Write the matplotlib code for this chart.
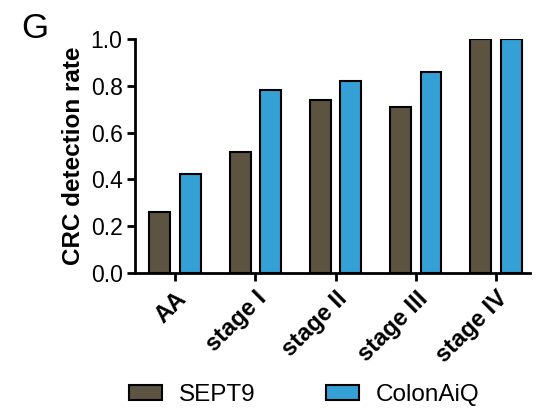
import matplotlib
matplotlib.use("Agg")
import matplotlib.pyplot as plt
import numpy as np

plt.rcParams['font.family'] = ['Liberation Sans', 'DejaVu Sans']

categories = ["AA", "stage I", "stage II", "stage III", "stage IV"]
sept9 = [0.262, 0.518, 0.739, 0.708, 1.0]
colonaiq = [0.422, 0.782, 0.820, 0.860, 1.0]

c_sept9 = "#5C5340"
c_colon = "#35A0D6"

fig = plt.figure(figsize=(5.4, 4.08), dpi=100)
ax = fig.add_axes([0.25, 0.331, 0.731, 0.573])

x = np.arange(len(categories))
w = 0.26
off = 0.19
ax.bar(x - off, sept9, w, color=c_sept9, edgecolor="black", linewidth=1.5, label="SEPT9")
ax.bar(x + off, colonaiq, w, color=c_colon, edgecolor="black", linewidth=1.5, label="ColonAiQ")

ax.set_xlim(-0.5, 4.42)
ax.set_ylim(0, 1.0)
ax.set_yticks([0, 0.2, 0.4, 0.6, 0.8, 1.0])
ax.set_yticklabels(["0.0", "0.2", "0.4", "0.6", "0.8", "1.0"], fontsize=16.5)
ax.set_xticks(x)
ax.set_xticklabels(categories, rotation=45, ha="right", rotation_mode="anchor",
                   fontsize=17, fontweight="bold")
ax.set_ylabel("CRC detection rate", fontsize=17.5, fontweight="bold", labelpad=4)

for s in ["top", "right"]:
    ax.spines[s].set_visible(False)
for s in ["left", "bottom"]:
    ax.spines[s].set_linewidth(2)
ax.tick_params(axis="both", width=2, length=6, direction="out")
ax.tick_params(axis="x", pad=4)
ax.tick_params(axis="y", pad=3)

fig.text(0.04, 0.93, "G", fontsize=25, va="center", ha="left")

fig.legend(loc="center left", bbox_to_anchor=(0.238, 0.031), ncol=2, frameon=False,
           fontsize=17.5, handlelength=1.36, handleheight=0.58, handletextpad=0.7,
           columnspacing=2.9, borderpad=0, borderaxespad=0)

fig.savefig("out.png", dpi=100)
